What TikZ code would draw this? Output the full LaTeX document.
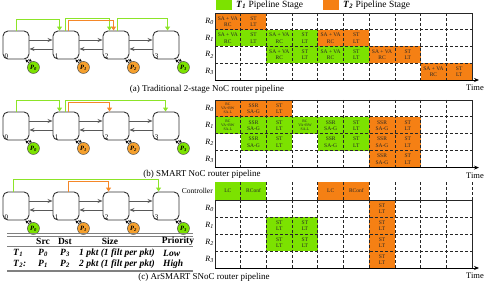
\documentclass[tikz,border=0pt]{standalone}
\usepackage{fontspec}
\setmainfont{Liberation Serif}
\usetikzlibrary{arrows.meta,calc}
\definecolor{tg}{RGB}{124,226,0}
\definecolor{to}{RGB}{245,128,20}
\definecolor{po}{RGB}{245,160,45}
\definecolor{lg}{RGB}{140,228,40}
\definecolor{lo}{RGB}{245,135,40}
\newcommand\bi[1]{\textbf{\textit{#1}}}
\newcommand\lbl[2]{\bi{#1}\textsubscript{\bi{#2}}}
\newcommand\mycell[7]{\node[cell,fill=#6,minimum height=#3pt] (#1) at ({215+25.7*(#5+0.5)},{#2+#3*(#4+0.5)}) {#7};}
\newcommand\sava{SA + VA\\RC}
\newcommand\stlt{ST\\LT}
\newcommand\ssr{SSR\\SA-G}
\newcommand\rcv{RC\\VA+BW\\SA-L}
\newcommand\mygrid[3]{%
 \foreach \r in {1,2,3}{\draw[grd] (215,{#1+#2*\r}) -- (472,{#1+#2*\r});}
 \foreach \c in {1,...,9}{\draw[grd] ({215+25.7*\c},#1) -- ({215+25.7*\c},{#1+4*#2});}
 \draw[frameln] (472,{#1+4*#2}) -- (472,#1) -- (215,#1) -- (215,{#1+4*#2});
 \coordinate (#3s) at (215,{#1+4*#2});
 \coordinate (#3e) at (479,{#1+4*#2});
 \draw[timeaxis] (#3s) -- (#3e);
 \node[tlab] (#3time) at (475,{#1+4*#2+8}) {Time};
 \foreach \r in {0,1,2,3}{\node[rowlab] (#3R\r) at (214,{#1+#2*(\r+0.5)}) {\textit{R}\textsubscript{\textit{\r}}};}
}
\begin{document}
\begin{tikzpicture}[x=1pt,y=-1pt,
 router/.style={draw=black!80,line width=0.9pt,rounded corners=5pt,minimum width=26pt,minimum height=28pt,inner sep=0pt},
 pe/.style={circle,draw=black!70,line width=0.5pt,minimum size=12pt,inner sep=0pt,font=\fontsize{6.5}{6.5}\selectfont},
 link/.style={draw=black!65,line width=0.9pt,-{Stealth[length=5pt,width=4pt]}},
 ej/.style={black,line width=0.7pt,-{Stealth[length=3pt,width=3pt]}},
 gl/.style={draw=lg,line width=1pt,-{Triangle[length=4pt,width=5pt]}},
 ol/.style={draw=lo,line width=1pt,-{Triangle[length=4pt,width=5pt]}},
 rlab/.style={font=\fontsize{7}{7}\selectfont,inner sep=0pt,anchor=south west},
 cell/.style={draw=none,minimum width=25.7pt,inner sep=0pt,align=center,font=\fontsize{5.5}{6.2}\selectfont,text=black!85},
 small/.style={font=\fontsize{3.8}{4.2}\selectfont},
 grd/.style={black!85,line width=0.8pt,dash pattern=on 3pt off 2pt},
 frameln/.style={black!85,line width=0.8pt},
 timeaxis/.style={black,line width=0.8pt,-{Stealth[length=5pt,width=4pt]}},
 tlab/.style={font=\fontsize{8.5}{8.5}\selectfont,inner sep=0pt},
 rowlab/.style={font=\fontsize{8}{8}\selectfont,inner sep=0pt,anchor=east},
 captxt/.style={font=\fontsize{9}{9}\selectfont,inner sep=0pt},
 tbtxt/.style={font=\fontsize{9.5}{9.5}\selectfont,inner sep=0pt},
 tline/.style={draw=black!50,line width=0.8pt}
]
\useasboundingbox (0,0) rectangle (484,283);

% ---------- legend ----------
\node[fill=tg,minimum width=16pt,minimum height=10pt,inner sep=0pt] (lg1) at (224,5) {};
\node[anchor=west,font=\fontsize{9.5}{10}\selectfont,inner sep=0pt] (lt1) at (236,5) {\lbl{T}{1} Pipeline Stage};
\node[fill=to,minimum width=16pt,minimum height=10pt,inner sep=0pt] (lg2) at (331,5) {};
\node[anchor=west,font=\fontsize{9.5}{10}\selectfont,inner sep=0pt] (lt2) at (343,5) {\lbl{T}{2} Pipeline Stage};

% ---------- routers ----------
\foreach \p/\y in {a/45,b/126,c/206}{
 \foreach \i/\col in {0/tg,1/po,2/po,3/tg}{
  \node[router] (\p\i) at ({16+50*\i},\y) {};
  \node[rlab] (\p l\i) at ($(\p\i.south west)+(2,-1)$) {\i};
  \node[pe,fill=\col] (\p p\i) at ($(\p\i.south east)+(4,8)$) {\lbl{P}{\i}};
  \draw[ej] (\p p\i.135) -- ($(\p\i.south east)+(-4,0)$);
  \draw[ej] ($(\p\i.south east)+(-1,0)$) -- (\p p\i.105);
 }
 \foreach \i/\j in {0/1,1/2,2/3}{
  \draw[link] ([yshift=5pt]\p\i.east) -- ([yshift=5pt]\p\j.west);
  \draw[link] ([yshift=-4pt]\p\j.west) -- ([yshift=-4pt]\p\i.east);
 }
}

% ---------- routes (a) ----------
\draw[gl] (a0.north) -- ++(0,-11) -| ($(a1.north west)+(7,0)$);
\draw[gl] ($(a1.north)+(-1,0)$) -- ++(0,-12) -| ($(a2.north west)+(7,0)$);
\draw[ol] ($(a1.north)+(2,0)$) -- ++(0,-10) -| ($(a2.north west)+(11,0)$);
\draw[gl] ($(a2.north)+(1,0)$) -- ++(0,-12) -| ($(a3.north west)+(15,0)$);
% ---------- routes (b) ----------
\draw[gl] (b0.north) -- ++(0,-11) -| ($(b1.north west)+(7,0)$);
\draw[gl] ($(b1.north)+(-1,0)$) -- ++(0,-11) -| ($(b3.north west)+(13,0)$);
\draw[ol] ($(b1.north)+(2,0)$) -- ++(0,-9) -| ($(b2.north west)+(7,0)$);
% ---------- routes (c) ----------
\draw[gl] ($(c0.north)+(-3,0)$) -- ++(0,-12) -| ($(c3.north west)+(6,0)$);
\draw[ol] ($(c1.north)+(2,0)$) -- ++(0,-10) -| ($(c2.north west)+(6,0)$);

% ---------- captions ----------
\node[captxt] (capa) at (207,89) {(a) Traditional 2-stage NoC router pipeline};
\node[captxt] (capb) at (202,174) {(b) SMART NoC router pipeline};
\node[captxt] (capc) at (204,277) {(c) ArSMART SNoC router pipeline};

% ---------- timeline (a) ----------
\mycell{aA00}{13}{16.75}{0}{0}{to}{\sava}
\mycell{aA01}{13}{16.75}{0}{1}{to}{\stlt}
\mycell{aA10}{13}{16.75}{1}{0}{tg}{\sava}
\mycell{aA11}{13}{16.75}{1}{1}{tg}{\stlt}
\mycell{aA12}{13}{16.75}{1}{2}{tg}{\sava}
\mycell{aA13}{13}{16.75}{1}{3}{tg}{\stlt}
\mycell{aA14}{13}{16.75}{1}{4}{to}{\sava}
\mycell{aA15}{13}{16.75}{1}{5}{to}{\stlt}
\mycell{aA22}{13}{16.75}{2}{2}{tg}{\sava}
\mycell{aA23}{13}{16.75}{2}{3}{tg}{\stlt}
\mycell{aA24}{13}{16.75}{2}{4}{tg}{\sava}
\mycell{aA25}{13}{16.75}{2}{5}{tg}{\stlt}
\mycell{aA26}{13}{16.75}{2}{6}{to}{\sava}
\mycell{aA27}{13}{16.75}{2}{7}{to}{\stlt}
\mycell{aA38}{13}{16.75}{3}{8}{to}{\sava}
\mycell{aA39}{13}{16.75}{3}{9}{to}{\stlt}
\mygrid{13}{16.75}{ta}

% ---------- timeline (b) ----------
\begin{scope}[cell/.append style={small}]
\mycell{bB00}{100}{16.9}{0}{0}{to}{\rcv}
\mycell{bB10}{100}{16.9}{1}{0}{tg}{\rcv}
\mycell{bB13}{100}{16.9}{1}{3}{tg}{\rcv}
\end{scope}
\mycell{bB01}{100}{16.9}{0}{1}{to}{\ssr}
\mycell{bB02}{100}{16.9}{0}{2}{to}{\stlt}
\mycell{bB11}{100}{16.9}{1}{1}{tg}{\ssr}
\mycell{bB12}{100}{16.9}{1}{2}{tg}{\stlt}
\mycell{bB14}{100}{16.9}{1}{4}{tg}{\ssr}
\mycell{bB15}{100}{16.9}{1}{5}{tg}{\stlt}
\mycell{bB16}{100}{16.9}{1}{6}{to}{\ssr}
\mycell{bB17}{100}{16.9}{1}{7}{to}{\stlt}
\mycell{bB21}{100}{16.9}{2}{1}{tg}{\ssr}
\mycell{bB22}{100}{16.9}{2}{2}{tg}{\stlt}
\mycell{bB24}{100}{16.9}{2}{4}{tg}{\ssr}
\mycell{bB25}{100}{16.9}{2}{5}{tg}{\stlt}
\mycell{bB26}{100}{16.9}{2}{6}{to}{\ssr}
\mycell{bB27}{100}{16.9}{2}{7}{to}{\stlt}
\mycell{bB36}{100}{16.9}{3}{6}{to}{\ssr}
\mycell{bB37}{100}{16.9}{3}{7}{to}{\stlt}
\mygrid{100}{16.9}{tb}

% ---------- timeline (c) ----------
\mycell{cK0}{182}{18}{0}{0}{tg}{LC}
\mycell{cK1}{182}{18}{0}{1}{tg}{RConf}
\mycell{cK4}{182}{18}{0}{4}{to}{LC}
\mycell{cK5}{182}{18}{0}{5}{to}{RConf}
\foreach \c in {1,...,10}{\draw[grd] ({215+25.7*\c},182) -- ({215+25.7*\c},200);}
\node[anchor=east,font=\fontsize{7.5}{7.5}\selectfont,inner sep=0pt] (ctrl) at (213,191) {Controller};
\mycell{cC12}{200}{17}{1}{2}{tg}{\stlt}
\mycell{cC13}{200}{17}{1}{3}{tg}{\stlt}
\mycell{cC22}{200}{17}{2}{2}{tg}{\stlt}
\mycell{cC23}{200}{17}{2}{3}{tg}{\stlt}
\mycell{cC06}{200}{17}{0}{6}{to}{\stlt}
\mycell{cC16}{200}{17}{1}{6}{to}{\stlt}
\mycell{cC26}{200}{17}{2}{6}{to}{\stlt}
\mycell{cC36}{200}{17}{3}{6}{to}{\stlt}
\mygrid{200}{17}{tc}

% ---------- table ----------
\draw[tline,line width=1.2pt] (7,233.5) -- (193,233.5);
\draw[tline,line width=0.6pt] (7,236.5) -- (193,236.5);
\draw[tline,line width=0.6pt] (7,246.5) -- (193,246.5);
\draw[tline,line width=1.2pt] (7,271) -- (193,271);
\node[tbtxt] (hs) at (43,241.5) {\textbf{Src}};
\node[tbtxt] (hd) at (65,241.5) {\textbf{Dst}};
\node[tbtxt] (hz) at (110,241.5) {\textbf{Size}};
\node[tbtxt] (hp) at (178,241.5) {\textbf{Priority}};
\node[tbtxt,anchor=west] (t1) at (13,253) {\lbl{T}{1}};
\node[tbtxt] (t1s) at (43,253) {\lbl{P}{0}};
\node[tbtxt] (t1d) at (65,253) {\lbl{P}{3}};
\node[tbtxt] (t1z) at (117,253) {\bi{1 pkt (1 filt per pkt)}};
\node[tbtxt,anchor=west] (t1p) at (163,253) {\bi{Low}};
\node[tbtxt,anchor=west] (t2) at (13,264) {\lbl{T}{2}\bi{:}};
\node[tbtxt] (t2s) at (43,264) {\lbl{P}{1}};
\node[tbtxt] (t2d) at (65,264) {\lbl{P}{2}};
\node[tbtxt] (t2z) at (117,264) {\bi{2 pkt (1 filt per pkt)}};
\node[tbtxt,anchor=west] (t2p) at (163,264) {\bi{High}};
\end{tikzpicture}
\end{document}
